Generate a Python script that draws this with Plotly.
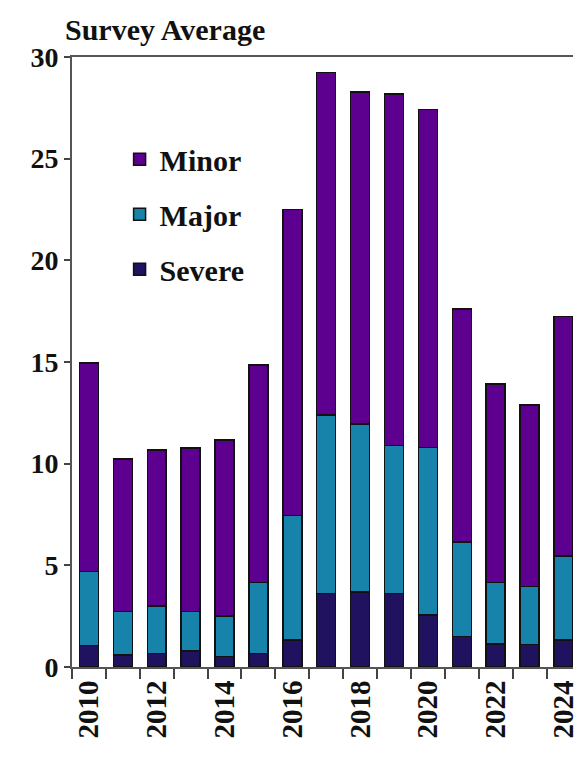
import plotly.graph_objects as go

# Survey average by year, split by severity (stacked)
years = [str(y) for y in range(2010, 2025)]
severe = [1.05, 0.59, 0.67, 0.79, 0.51, 0.67, 1.33, 3.62, 3.70, 3.62, 2.56, 1.49, 1.13, 1.11, 1.33]
major = [3.64, 2.13, 2.33, 1.93, 2.00, 3.48, 6.11, 8.78, 8.24, 7.27, 8.23, 4.67, 3.02, 2.84, 4.13]
minor = [10.26, 7.51, 7.67, 8.05, 8.66, 10.70, 15.07, 16.83, 16.33, 17.29, 16.64, 11.44, 9.77, 8.94, 11.77]
tick_labels = [y if int(y) % 2 == 0 else "" for y in years]
y_ticks = [0, 5, 10, 15, 20, 25, 30]

FONT = "Liberation Serif"
# (name, values, colour, legend rank) - legend lists Minor first
series = [
    ("Severe", severe, "#20125e", 3),
    ("Major", major, "#1783ab", 2),
    ("Minor", minor, "#5e008f", 1),
]

fig = go.Figure()
for name, vals, color, rank in series:
    fig.add_trace(go.Bar(
        x=years, y=vals, name=f"<b>{name}</b>", legendgroup=name, legendrank=rank,
        marker=dict(color=color, line=dict(color="#111111", width=1.5)),
    ))

fig.update_layout(
    width=579, height=775,
    margin=dict(l=72, r=0, t=57, b=108),
    barmode="stack", bargap=0.44,
    plot_bgcolor="white", paper_bgcolor="white",
    font=dict(family=FONT, color="#111111"),
    title=dict(text="<b>Survey Average</b>", font=dict(family=FONT, size=30, color="#111111"),
               x=0, xref="paper", xanchor="left", y=0.962, yanchor="middle", pad=dict(l=-7)),
    legend=dict(
        x=0.095, y=0.875, xanchor="left", yanchor="top",
        traceorder="grouped", tracegroupgap=13,
        font=dict(family=FONT, size=30, color="#111111"),
        bgcolor="rgba(0,0,0,0)", itemwidth=30,
    ),
    showlegend=True,
)

fig.update_xaxes(
    type="category", range=[-0.5, 14.28],
    tickmode="array", tickvals=years, ticktext=[f"<b>{t}</b>" if t else "" for t in tick_labels],
    tickson="boundaries", ticks="outside", ticklen=10, tickwidth=1.5, tickcolor="#444444",
    tickangle=-90, tickfont=dict(family=FONT, size=29, color="#111111"),
    showline=True, linecolor="#555555", linewidth=2, mirror=True,
    showgrid=False, zeroline=False,
)
fig.update_yaxes(
    range=[0, 30], tickmode="array", tickvals=y_ticks, ticktext=[f"<b>{v}</b>" for v in y_ticks],
    ticks="outside", ticklen=6, tickwidth=1.5, tickcolor="#444444",
    tickfont=dict(family=FONT, size=28, color="#111111"),
    showline=True, linecolor="#555555", linewidth=2,
    showgrid=False, zeroline=False,
)

fig.write_html("out.html")
